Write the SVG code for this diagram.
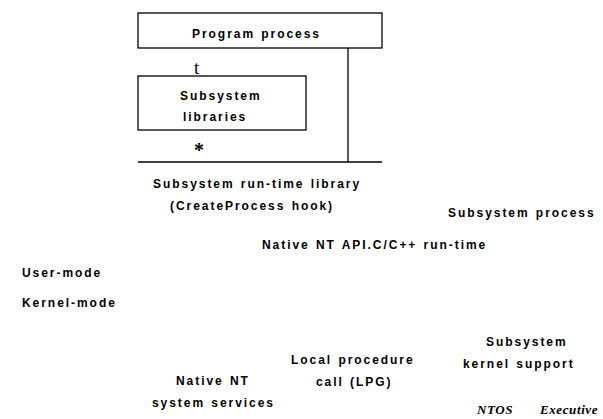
<svg xmlns="http://www.w3.org/2000/svg" width="603" height="419" viewBox="0 0 603 419">
<style>
.b{font-family:"Liberation Sans",Arial,sans-serif;font-weight:bold;font-size:12px;letter-spacing:1.95px;word-spacing:1px;fill:#000}
.s{font-family:"Liberation Serif","Times New Roman",serif;fill:#000}
.i{font-family:"Liberation Serif","Times New Roman",serif;font-weight:bold;font-style:italic;font-size:13px;letter-spacing:0.6px;fill:#000}
.box{fill:#fff;stroke:#000;stroke-width:1.3}
.ln{stroke:#000;stroke-width:1.3;fill:none}
</style>
<rect width="603" height="419" fill="#fff"/>
<g id="connectors">
<line class="ln" x1="348" y1="48" x2="348" y2="162"/>
<line class="ln" x1="138" y1="162" x2="382" y2="162"/>
</g>
<g id="program-process">
<rect class="box" x="138" y="13" width="244" height="35"/>
<text class="b" x="192" y="38">Program process</text>
</g>
<g id="subsystem-libraries">
<rect class="box" x="138" y="76" width="168" height="54"/>
<text class="b" x="180" y="100">Subsystem</text>
<text class="b" x="183" y="121">libraries</text>
</g>
<g id="marks">
<text class="s" x="194" y="74" font-size="19">t</text>
<text class="s" x="194" y="157" font-size="20" font-weight="bold">*</text>
</g>
<g id="runtime-library">
<text class="b" x="153" y="188">Subsystem run-time library</text>
<text class="b" x="170" y="210">(CreateProcess hook)</text>
</g>
<g id="subsystem-process">
<text class="b" x="448" y="217">Subsystem process</text>
</g>
<g id="native-api">
<text class="b" x="262" y="249">Native NT API.C/C++ run-time</text>
</g>
<g id="modes">
<text class="b" x="22" y="277">User-mode</text>
<text class="b" x="22" y="307">Kernel-mode</text>
</g>
<g id="lpc">
<text class="b" x="291" y="364">Local procedure</text>
<text class="b" x="316" y="386">call (LPG)</text>
</g>
<g id="kernel-support">
<text class="b" x="486" y="346">Subsystem</text>
<text class="b" x="463" y="368">kernel support</text>
</g>
<g id="native-services">
<text class="b" x="176" y="385">Native NT</text>
<text class="b" x="152" y="407">system services</text>
</g>
<g id="ntos">
<text class="i" x="477" y="414">NTOS</text>
<text class="i" x="540" y="414">Executive</text>
</g>
</svg>
